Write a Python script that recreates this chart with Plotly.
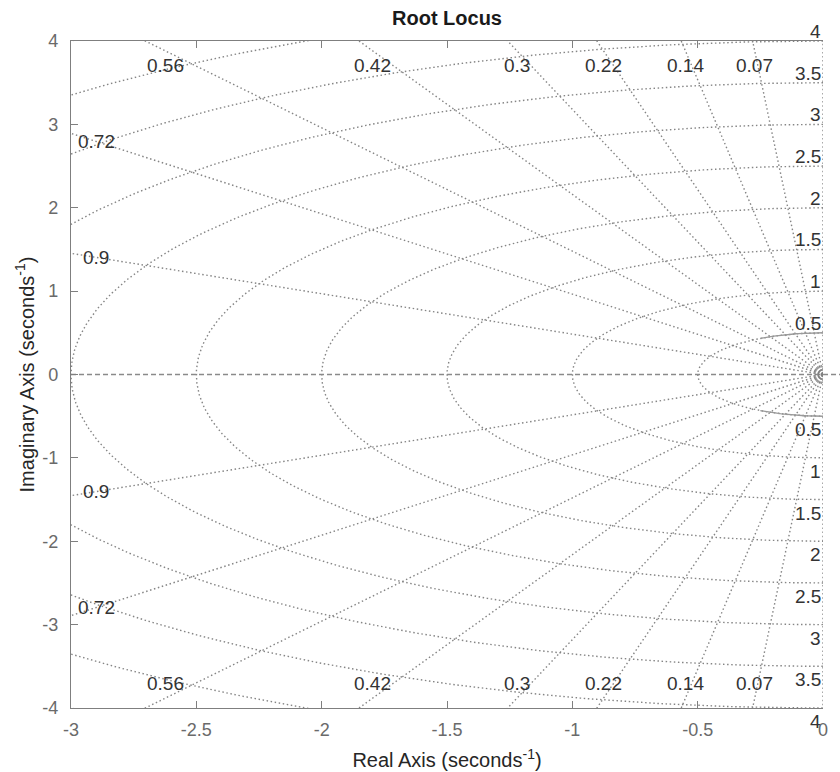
import numpy as np
import plotly.graph_objects as go

# ---- data ----
zeta_values = [0.07, 0.14, 0.22, 0.3, 0.42, 0.56, 0.72, 0.9]
zeta_top_labels = ["0.07", "0.14", "0.22", "0.3", "0.42", "0.56"]
zeta_side_labels = ["0.72", "0.9"]
wn_values = [0.5, 1, 1.5, 2, 2.5, 3, 3.5, 4, 4.5, 5]
wn_labels = ["0.5", "1", "1.5", "2", "2.5", "3", "3.5", "4"]
x_ticks = [-3, -2.5, -2, -1.5, -1, -0.5, 0]
y_ticks = [-4, -3, -2, -1, 0, 1, 2, 3, 4]
origin_ring_sizes = [9, 16]

GRID = "#858585"
DOT = "1.5px,2.6px"

fig = go.Figure()

# damping (zeta) rays
zx, zy = [], []
for z in zeta_values:
    th = np.arccos(z)
    R = 8.0
    for s in (1, -1):
        zx += [0, -R * np.cos(th), None]
        zy += [0, s * R * np.sin(th), None]
# zeta = 0 (imaginary axis)
zx += [0, 0, None]
zy += [-8, 8, None]
fig.add_trace(go.Scatter(x=zx, y=zy, mode="lines", hoverinfo="skip",
                         line=dict(color=GRID, width=1.4, dash=DOT), showlegend=False))

# natural-frequency semicircles
cx, cy = [], []
t = np.linspace(np.pi / 2, 3 * np.pi / 2, 361)
for w in wn_values:
    cx += list(w * np.cos(t)) + [None]
    cy += list(w * np.sin(t)) + [None]
fig.add_trace(go.Scatter(x=cx, y=cy, mode="lines", hoverinfo="skip",
                         line=dict(color=GRID, width=1.4, dash=DOT), showlegend=False))

# solid segments near origin on the smallest circle
w0 = wn_values[0]
sx, sy = [], []
for a0, a1 in ((np.pi / 2, 2 * np.pi / 3), (4 * np.pi / 3, 3 * np.pi / 2)):
    tt = np.linspace(a0, a1, 40)
    sx += list(w0 * np.cos(tt)) + [None]
    sy += list(w0 * np.sin(tt)) + [None]
fig.add_trace(go.Scatter(x=sx, y=sy, mode="lines", hoverinfo="skip",
                         line=dict(color="#9a9a9a", width=1.4), showlegend=False))

# real axis dashed
fig.add_trace(go.Scatter(x=[-3, 0], y=[0, 0], mode="lines", hoverinfo="skip",
                         line=dict(color="#8a8a8a", width=1.4, dash="5px,3px"), showlegend=False))
fig.add_shape(type="line", xref="paper", yref="y", x0=1.0, x1=1.03, y0=0, y1=0,
              line=dict(color="#8a8a8a", width=1.4, dash="5px,3px"))

# rings at origin
fig.add_trace(go.Scatter(x=[0] * len(origin_ring_sizes), y=[0] * len(origin_ring_sizes),
                         mode="markers", hoverinfo="skip", cliponaxis=True,
                         marker=dict(symbol="circle-open", size=origin_ring_sizes,
                                     color="#808080", line=dict(width=1.5)),
                         showlegend=False))
fig.add_trace(go.Scatter(x=[0], y=[0], mode="markers", hoverinfo="skip",
                         marker=dict(symbol="circle", size=5, color="#808080"), showlegend=False))

LBL = dict(family="Liberation Sans, Arial, sans-serif", size=19, color="#333333")
ann = []
# zeta labels along top & bottom
for lab in zeta_top_labels:
    z = float(lab)
    th = np.arccos(z)
    xl = -3.88 / np.tan(th)
    for s in (1, -1):
        ann.append(dict(x=xl, y=s * 3.71, text=lab, showarrow=False, font=LBL,
                        xanchor="center", yanchor="middle"))
# zeta labels on the left side
for lab in zeta_side_labels:
    z = float(lab)
    th = np.arccos(z)
    for s in (1, -1):
        ann.append(dict(x=-2.9, y=s * 2.9 * np.tan(th), text=lab, showarrow=False, font=LBL,
                        xanchor="center", yanchor="middle"))
# wn labels along right edge
for lab in wn_labels:
    w = float(lab)
    ann.append(dict(x=0, y=w, text=lab, showarrow=False, font=LBL,
                    xanchor="right", yanchor="bottom", yshift=-3))
    ann.append(dict(x=0, y=-w, text=lab, showarrow=False, font=LBL,
                    xanchor="right", yanchor="top", yshift=-1))

fig.update_layout(
    width=840, height=772,
    margin=dict(l=71, r=17, t=41, b=64, autoexpand=False),
    paper_bgcolor="white", plot_bgcolor="white",
    font=dict(family="Liberation Sans, Arial, sans-serif"),
    title=dict(text="<b>Root Locus</b>", x=(71 + 376) / 840, xanchor="center",
               y=1 - 18 / 772, yanchor="middle",
               font=dict(size=20, color="#1a1a1a")),
    annotations=ann,
    showlegend=False,
)
fig.update_xaxes(range=[-3, 0], tickvals=x_ticks, ticktext=[f"{v:g}" for v in x_ticks],
                 automargin=False,
                 showgrid=False, zeroline=False, showline=True, linecolor="#7f7f7f", linewidth=1.2,
                 ticks="inside", ticklen=7, tickcolor="#7f7f7f", mirror="ticks",
                 tickfont=dict(size=18, color="#6a6a6a"), ticklabelstandoff=5,
                 title=dict(text="Real Axis (seconds<sup>-1</sup>)", font=dict(size=20, color="#262626"),
                            standoff=14))
fig.update_yaxes(range=[-4, 4], tickvals=y_ticks, ticktext=[f"{v:g}" for v in y_ticks],
                 automargin=False,
                 showgrid=False, zeroline=False, showline=True, linecolor="#7f7f7f", linewidth=1.2,
                 ticks="inside", ticklen=7, tickcolor="#7f7f7f", mirror=False,
                 tickfont=dict(size=18, color="#6a6a6a"), ticklabelstandoff=8,
                 title=dict(text="Imaginary Axis (seconds<sup>-1</sup>)", font=dict(size=20, color="#262626"),
                            standoff=2))

fig.write_html("out.html")
